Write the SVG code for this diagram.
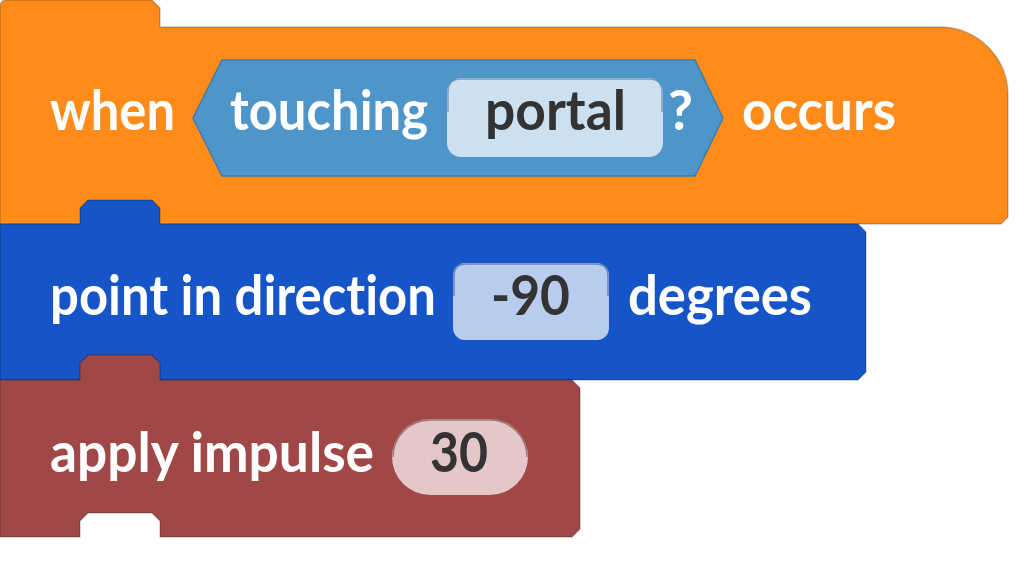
<svg xmlns="http://www.w3.org/2000/svg" width="1024" height="564" viewBox="0 0 1024 564">
  <style>
    .lbl { font-family: Lato, "Open Sans", "Liberation Sans", sans-serif; font-weight: 700; font-size: 55px; fill: #ffffff; font-variant-ligatures: none; }
    .val { font-family: Lato, "Open Sans", "Liberation Sans", sans-serif; font-weight: 700; font-size: 55px; fill: #333333; font-variant-ligatures: none; }
    .blk { stroke: rgba(0,0,0,0.22); stroke-width: 1.5; stroke-linejoin: round; }
  </style>
  <rect width="1024" height="564" fill="#ffffff"/>

  <g id="when-block">
    <path class="blk" fill="#FF8C1A" d="M0,7 Q0,0 7,0 L152,0 L160,8 L160,27 L940,27 A68,68 0 0 1 1008,95 L1008,217 L1001,224 L0,224 Z"/>
    <g id="touching-boolean">
      <path fill="#4E95CA" stroke="#3B7BB0" stroke-width="1.5" d="M193,118 L222,60 L695,60 L723,118 L695,176 L222,176 Z"/>
      <rect x="447" y="78" width="216" height="79" rx="14" fill="#CCE0F0"/>
      <path d="M448,112 L448,92 Q448,79 461,79 L649,79 Q662,79 662,92 L662,112" fill="none" stroke="#3F6A8C" stroke-opacity="0.55" stroke-width="1.5"/>
      <text class="lbl" x="230" y="130" textLength="198" lengthAdjust="spacingAndGlyphs">touching</text>
      <text class="val" x="485" y="130" textLength="141" lengthAdjust="spacingAndGlyphs">portal</text>
      <text class="lbl" x="668" y="130" textLength="25" lengthAdjust="spacingAndGlyphs">?</text>
    </g>
    <text class="lbl" x="50" y="130" textLength="125" lengthAdjust="spacingAndGlyphs">when</text>
    <text class="lbl" x="742" y="130" textLength="154" lengthAdjust="spacingAndGlyphs">occurs</text>
  </g>

  <g id="point-block">
    <path class="blk" fill="#1555C7" d="M0,224 L80,224 L80,208 L88,200 L152,200 L160,208 L160,224 L858,224 L866,232 L866,372 L858,380 L0,380 Z"/>
    <rect x="453" y="263" width="156" height="77" rx="12" fill="#B8CDEE"/>
    <path d="M454,296 L454,276 Q454,264 466,264 L596,264 Q608,264 608,276 L608,296" fill="none" stroke="#0E3C8C" stroke-opacity="0.5" stroke-width="1.5"/>
    <text class="lbl" x="50" y="315" textLength="386" lengthAdjust="spacingAndGlyphs">point in direction</text>
    <text class="val" x="491" y="315" textLength="79" lengthAdjust="spacingAndGlyphs">-90</text>
    <text class="lbl" x="628" y="315" textLength="184" lengthAdjust="spacingAndGlyphs">degrees</text>
  </g>

  <g id="impulse-block">
    <path class="blk" fill="#A04848" d="M0,380 L80,380 L80,363 L88,355 L152,355 L160,363 L160,380 L572,380 L580,388 L580,529 L572,537 L160,537 L160,521 L152,513 L88,513 L80,521 L80,537 L0,537 Z"/>
    <rect x="392" y="419" width="136" height="76" rx="38" fill="#E4C7C8"/>
    <path d="M393,457 A37,37 0 0 1 430,420 L490,420 A37,37 0 0 1 527,457" fill="none" stroke="#5A2020" stroke-opacity="0.5" stroke-width="1.5"/>
    <text class="lbl" x="50" y="472" textLength="324" lengthAdjust="spacingAndGlyphs">apply impulse</text>
    <text class="val" x="430" y="472" textLength="58" lengthAdjust="spacingAndGlyphs">30</text>
  </g>

  <g id="connectors"/>
</svg>
